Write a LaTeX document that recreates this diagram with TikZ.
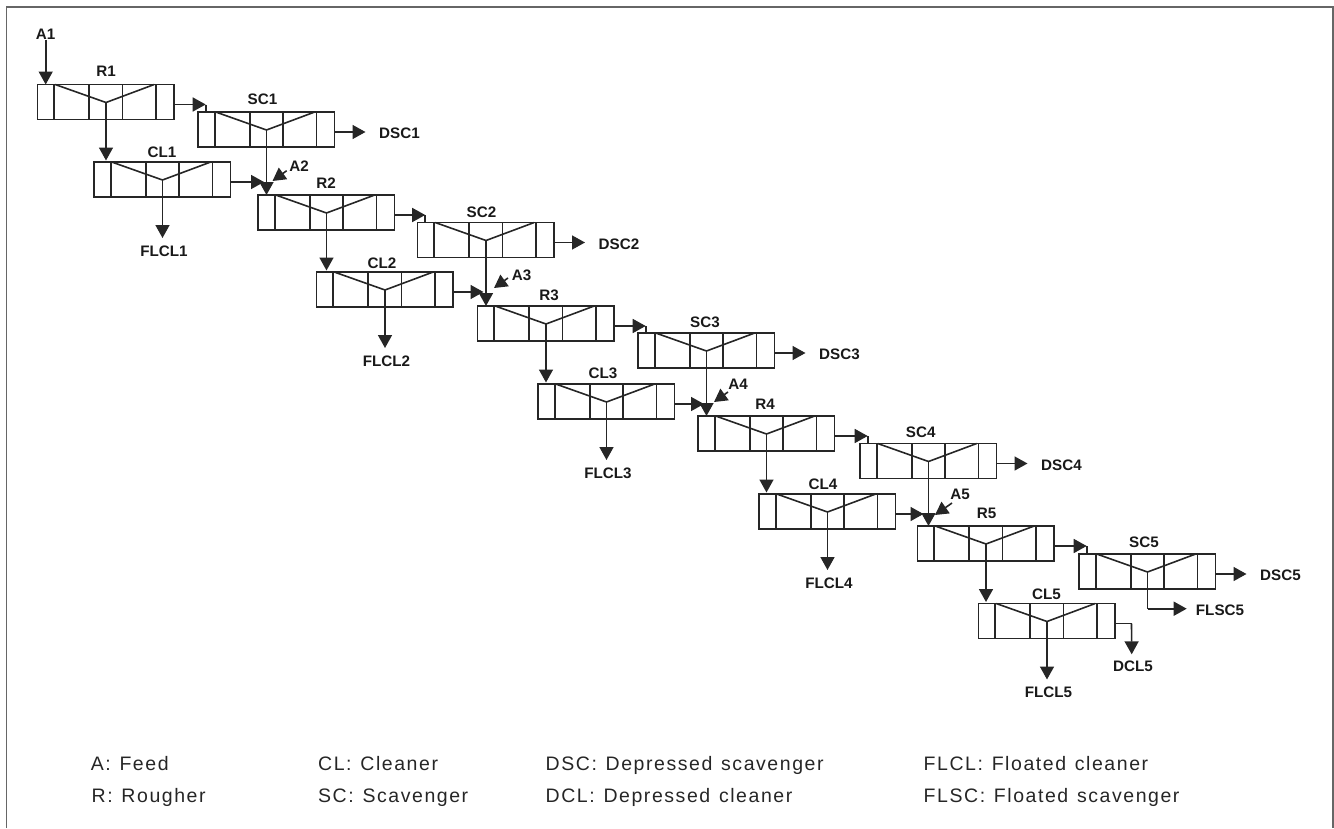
\documentclass[tikz,border=0pt]{standalone}
\usepackage{fontspec}
\setmainfont{Liberation Sans}
\newfontfamily\legendfont[LetterSpace=8,WordSpace=1.25]{Liberation Sans}
\usetikzlibrary{arrows.meta,calc}
\tikzset{
  unitbox/.style={draw=black!85,line width=1.6pt,minimum width=136.5pt,minimum height=35pt,inner sep=0pt,outer sep=0pt,anchor=north west},
  inner line/.style={draw=black!85,line width=1.6pt},
  flow/.style={draw=black!85,line width=1.6pt,-{Triangle[length=13pt,width=14pt]},shorten >=0pt},
  plainline/.style={draw=black!85,line width=1.6pt},
  lab/.style={font=\fontsize{15.2}{17}\selectfont\bfseries,text=black!90,inner sep=0pt},
  legend/.style={font=\legendfont\fontsize{19.5}{22}\selectfont,text=black!85,inner sep=0pt,anchor=base west},
  frame/.style={draw=black!60,line width=1.6pt}
}
\newcommand{\flotunit}[6]{% name, x, y, label, label dx, label dy
  \node[unitbox] (#1) at (#2,#3) {};
  \draw[inner line] ($(#1.north west)+(16.7,0)$) -- ($(#1.south west)+(16.7,0)$)
    ($(#1.north west)+(51.7,0)$) -- ($(#1.south west)+(51.7,0)$)
    ($(#1.north west)+(85,0)$) -- ($(#1.south west)+(85,0)$)
    ($(#1.north west)+(118.3,0)$) -- ($(#1.south west)+(118.3,0)$);
  \draw[inner line] ($(#1.north west)+(17.7,0)$) -- ($(#1.north west)+(68.5,18)$) -- ($(#1.north west)+(116.7,0)$);
  \coordinate (#1v) at ($(#1.north west)+(68.5,18)$);
  \coordinate (#1o) at ($(#1.north east)+(0,20)$);
  \node[lab] (#1lab) at ($(#1.north west)+(#5,#6)$) {#4};
}
\begin{document}
\begin{tikzpicture}[x=1pt,y=-1pt]
\useasboundingbox (0,0) rectangle (1334,828);
\coordinate (fa) at (6.3,828); \coordinate (fb) at (6.3,6.7);
\coordinate (fc) at (1332.7,6.7); \coordinate (fd) at (1332.7,828);
\draw[frame] (fa) -- (fb) -- (fc) -- (fd);

\flotunit{R1}{37.5}{84.5}{R1}{68.5}{-12.8}
\flotunit{SC1}{198}{112}{SC1}{64.5}{-13}
\flotunit{CL1}{94}{162}{CL1}{68}{-10}
\flotunit{R2}{258}{195}{R2}{68}{-12.3}
\flotunit{SC2}{417.5}{222.5}{SC2}{64}{-10.5}
\flotunit{CL2}{316.5}{272}{CL2}{65.5}{-9}
\flotunit{R3}{477.5}{306}{R3}{71.5}{-11}
\flotunit{SC3}{638}{333}{SC3}{67}{-10.5}
\flotunit{CL3}{538}{384}{CL3}{65}{-11}
\flotunit{R4}{698}{416}{R4}{67}{-12}
\flotunit{SC4}{860}{443.5}{SC4}{60.7}{-11.5}
\flotunit{CL4}{759}{494}{CL4}{64}{-10}
\flotunit{R5}{917.5}{526}{R5}{69}{-13}
\flotunit{SC5}{1079}{554}{SC5}{65}{-11.3}
\flotunit{CL5}{978.5}{603.5}{CL5}{68}{-9}

% feeds
\node[lab] (A1) at (45.7,34.3) {A1};
\draw[flow] (A1.south) -- (A1.south |- R1.north);
\node[lab] (A2) at (299,166) {A2};
\node[lab] (A3) at (521.7,275.7) {A3};
\node[lab] (A4) at (738,384.5) {A4};
\node[lab] (A5) at (960,494) {A5};
\coordinate (a2s) at (286.7,170.7); \coordinate (a2t) at (272.5,181);
\coordinate (a3s) at (508,278);     \coordinate (a3t) at (494,288);
\coordinate (a4s) at (728,392);     \coordinate (a4t) at (714,402);
\coordinate (a5s) at (952,503);     \coordinate (a5t) at (935,515);
\draw[flow] (a2s) -- (a2t);
\draw[flow] (a3s) -- (a3t);
\draw[flow] (a4s) -- (a4t);
\draw[flow] (a5s) -- (a5t);

\foreach \i in {1,...,5}{
  % R -> SC
  \coordinate (st\i) at ($(SC\i.north west)+(7.7,0)$);
  \coordinate (su\i) at (st\i |- R\i o);
  \draw[flow] (R\i o) -- (su\i);
  \draw[plainline] (su\i) -- (st\i);
  % R -> CL
  \draw[flow] (R\i v) -- ($(R\i v |- CL\i.north)+(0,-1.5)$);
  % SC -> DSC
  \node[lab] (D\i) at ($(SC\i o)+(65,1.5)$) {DSC\i};
  \draw[flow] (SC\i o) -- ($(SC\i o)+(31,0)$);
  % CL -> FLCL
  \node[lab] (F\i) at ($(CL\i v)+(1.5,71)$) {FLCL\i};
  \draw[flow] (CL\i v) -- ($(CL\i v)+(0,58)$);
}
% SC -> R, CL -> R
\foreach \i/\j in {1/2,2/3,3/4,4/5}{
  \draw[flow] (SC\i v) -- (SC\i v |- R\j.north);
  \coordinate (cl\i) at ($(R\j.north west)+(6,0)$);
  \draw[flow] (CL\i o) -- (cl\i |- CL\i o);
}
% ends
\node[lab] (FLSC5) at (1220,610) {FLSC5};
\coordinate (fs) at (1186.7,608.7);
\draw[plainline] (SC5v) -- (SC5v |- fs);
\draw[flow] (SC5v |- fs) -- (fs);
\node[lab] (DCL5) at (1133,666) {DCL5};
\draw[plainline] (CL5o) -- ++(16.5,0) coordinate (dc);
\coordinate (dt) at (1131.7,654.3);
\draw[flow] (dc) -- (dt);

% legend
\node[legend] (l1) at (90.6,770) {A: Feed};
\node[legend] (l2) at (91.5,802.7) {R: Rougher};
\node[legend] (l3) at (318,770) {CL: Cleaner};
\node[legend] (l4) at (318,802.7) {SC: Scavenger};
\node[legend] (l5) at (545.5,770) {DSC: Depressed scavenger};
\node[legend] (l6) at (545.5,802.7) {DCL: Depressed cleaner};
\node[legend] (l7) at (923.5,770) {FLCL: Floated cleaner};
\node[legend] (l8) at (923.5,802.7) {FLSC: Floated scavenger};
\end{tikzpicture}
\end{document}
